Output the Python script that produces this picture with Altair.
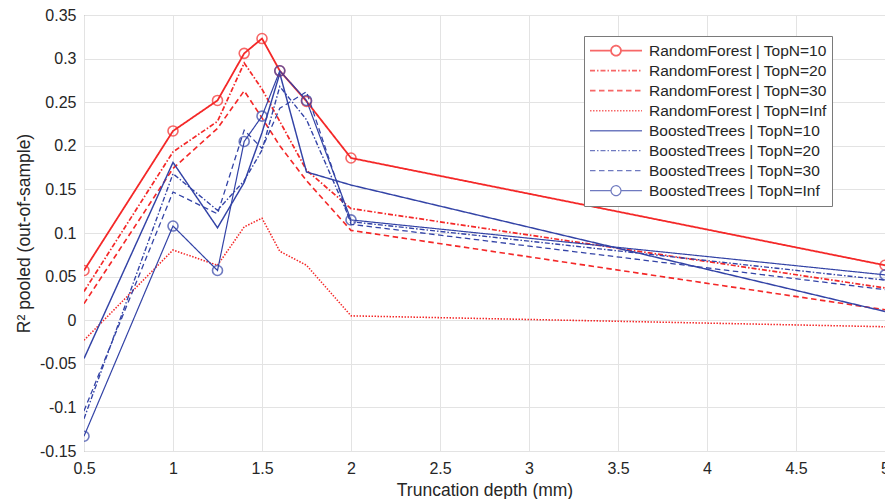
import altair as alt
import pandas as pd

# ---- data ----
depth = [0.5, 1, 1.25, 1.4, 1.5, 1.6, 1.75, 2, 5]

series_names = [
    "RandomForest | TopN=10",
    "RandomForest | TopN=20",
    "RandomForest | TopN=30",
    "RandomForest | TopN=Inf",
    "BoostedTrees | TopN=10",
    "BoostedTrees | TopN=20",
    "BoostedTrees | TopN=30",
    "BoostedTrees | TopN=Inf",
]

rf_10 = [0.057, 0.217, 0.252, 0.306, 0.323, 0.286, 0.251, 0.186, 0.063]
rf_20 = [0.033, 0.193, 0.228, 0.295, 0.265, 0.228, 0.172, 0.128, 0.037]
rf_30 = [0.019, 0.174, 0.220, 0.263, 0.232, 0.200, 0.160, 0.103, 0.012]
rf_inf = [-0.023, 0.0805, 0.063, 0.107, 0.117, 0.079, 0.063, 0.005, -0.0075]
bt_10 = [-0.044, 0.181, 0.106, 0.158, 0.215, 0.283, 0.170, 0.155, 0.010]
bt_20 = [-0.113, 0.168, 0.126, 0.160, 0.195, 0.268, 0.230, 0.113, 0.046]
bt_30 = [-0.104, 0.147, 0.122, 0.218, 0.197, 0.243, 0.262, 0.110, 0.035]
bt_inf = [-0.133, 0.108, 0.057, 0.205, 0.234, 0.286, 0.252, 0.115, 0.052]

marker_series = ["RandomForest | TopN=10", "BoostedTrees | TopN=Inf"]

x_ticks = [0.5, 1, 1.5, 2, 2.5, 3, 3.5, 4, 4.5, 5]
y_ticks = [-0.15, -0.1, -0.05, 0, 0.05, 0.1, 0.15, 0.2, 0.25, 0.3, 0.35]

# ---- styles ----
RED = "#f42828"
BLUE = "#3343a6"
color_range = [RED, RED, RED, RED, BLUE, BLUE, BLUE, BLUE]
dash_range = [[1, 0], [5, 2, 1.5, 2], [5.5, 3.5], [1.5, 1.5],
              [1, 0], [5, 2, 1.5, 2], [5.5, 3.5], [1, 0]]
width_range = [1.8, 1.2, 1.2, 1.1, 1.3, 1.2, 1.2, 2.1]
plain = "M-1,0H1"
marked = "M-1,0H-0.19M0.19,0H1M0.19,0A0.19,0.19,0,1,1,-0.19,0A0.19,0.19,0,1,1,0.19,0"
shape_range = [marked, plain, plain, plain, plain, plain, plain, marked]

rows = []
for name, vals in zip(series_names, [rf_10, rf_20, rf_30, rf_inf, bt_10, bt_20, bt_30, bt_inf]):
    for d, v in zip(depth, vals):
        rows.append({"series": name, "depth": d, "r2": v})
df = pd.DataFrame(rows)

FONT = "Liberation Sans"
TXT = "#262626"

legend = alt.Legend(
    orient="none", legendX=500, legendY=21,
    labelFont=FONT, labelFontSize=15.5, labelColor=TXT, labelLimit=400,
    symbolSize=2704, clipHeight=19.3, rowPadding=0, labelOffset=6,
    padding=5, strokeColor="#7a7a7a", fillColor="white",
)

x_enc = alt.X("depth:Q",
              scale=alt.Scale(domain=[0.5, 5], nice=False, zero=False),
              axis=alt.Axis(values=x_ticks, labelExpr="'' + datum.value", labelFlush=False,
                            title="Truncation depth (mm)", ticks=False, domain=False,
                            labelPadding=9, titlePadding=5))
y_enc = alt.Y("r2:Q",
              scale=alt.Scale(domain=[-0.15, 0.35], nice=False, zero=False),
              axis=alt.Axis(values=y_ticks, labelExpr="'' + datum.value",
                            title="R² pooled  (out-of-sample)", ticks=False, domain=False,
                            labelPadding=8, titlePadding=6))

color_enc = alt.Color("series:N", title=None, sort=series_names,
                      scale=alt.Scale(domain=series_names, range=color_range), legend=legend)

lines = alt.Chart(df).mark_line(clip=True).encode(
    x=x_enc, y=y_enc,
    color=color_enc,
    strokeDash=alt.StrokeDash("series:N", title=None, sort=series_names,
                              scale=alt.Scale(domain=series_names, range=dash_range)),
    strokeWidth=alt.StrokeWidth("series:N", title=None, sort=series_names,
                                scale=alt.Scale(domain=series_names, range=width_range)),
    detail="series:N",
)

points = alt.Chart(df).transform_filter(
    alt.FieldOneOfPredicate(field="series", oneOf=marker_series)
).mark_point(shape="circle", filled=False, size=100, strokeWidth=1.6, clip=True).encode(
    x=x_enc, y=y_enc, color=color_enc,
)

legend_shapes = alt.Chart(df).transform_filter("datum.depth > 100").mark_point(filled=False).encode(
    x=x_enc, y=y_enc, color=color_enc,
    shape=alt.Shape("series:N", title=None, sort=series_names,
                    scale=alt.Scale(domain=series_names, range=shape_range)),
)

chart = alt.layer(lines, points, legend_shapes).properties(
    width=801, height=436,
    autosize=alt.AutoSizeParams(type="none"),
    padding={"left": 76, "top": 7, "right": 0, "bottom": 48},
    background="white",
).configure_view(
    stroke="#7f7f7f", strokeWidth=1,
).configure_axis(
    labelFont=FONT, labelFontSize=16, labelColor=TXT,
    titleFont=FONT, titleFontSize=17.5, titleFontWeight="normal", titleColor=TXT,
    gridColor="#e3e3e3", gridWidth=1,
)

chart.save("out.html", embed_options={"renderer": "svg", "actions": False})
